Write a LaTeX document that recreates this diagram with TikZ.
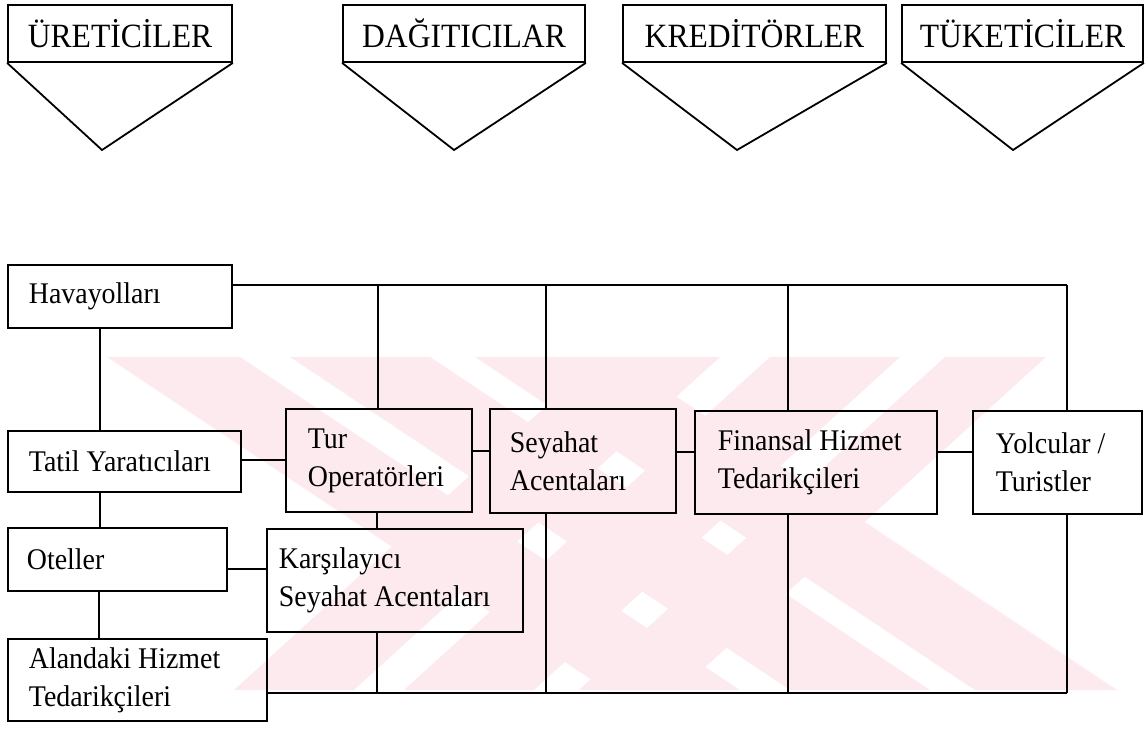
\documentclass[tikz,border=0pt]{standalone}
\usepackage{fontspec}
\setmainfont{Liberation Serif}[FakeStretch=0.93]
\definecolor{wm}{RGB}{252,234,238}
\begin{document}
\begin{tikzpicture}[x=1pt,y=-1pt,
  box/.style={draw, line width=1.8pt, anchor=north west, align=flush left, inner ysep=0pt,
              font=\fontsize{30}{38}\selectfont},
  head/.style={draw, line width=1.8pt, inner sep=0pt, font=\fontsize{34}{40}\selectfont},
  lnk/.style={line width=1.8pt},
  wmark/.style={fill=wm, draw=none},
]
\useasboundingbox (0,0) rectangle (1146,730);

% ---- faint watermark (behind everything) ----
\begin{scope}
  \clip (105,357) rectangle (1117,690);
  % "\" arm
  \fill[wmark] (107,357) -- (240,357) -- (740,690) -- (607,690) -- cycle;
  \fill[wmark] (290,357) -- (430,357) -- (930,690) -- (790,690) -- cycle;
  \fill[wmark] (475,357) -- (617,357) -- (1117,690) -- (975,690) -- cycle;
  % "/" arm
  \fill[wmark] (600,357) -- (720,357) -- (354,690) -- (234,690) -- cycle;
  \fill[wmark] (770,357) -- (900,357) -- (534,690) -- (404,690) -- cycle;
  \fill[wmark] (945,357) -- (1046,357) -- (680,690) -- (579,690) -- cycle;
\end{scope}

% ---- top pentagon labels ----
\node[head, minimum width=224, minimum height=57] (ure) at (120,33.5) {ÜRETİCİLER};
\coordinate (urep) at (102,150);
\draw[lnk] (ure.south west) -- (urep) -- (ure.south east);

\node[head, minimum width=242, minimum height=57] (dag) at (464,33.5) {DAĞITICILAR};
\coordinate (dagp) at (454,150);
\draw[lnk] (dag.south west) -- (dagp) -- (dag.south east);

\node[head, minimum width=263, minimum height=57] (kre) at (754.5,33.5) {KREDİTÖRLER};
\coordinate (krep) at (737,150);
\draw[lnk] (kre.south west) -- (krep) -- (kre.south east);

\node[head, minimum width=241, minimum height=57] (tuk) at (1022.5,33.5) {TÜKETİCİLER};
\coordinate (tukp) at (1013,150);
\draw[lnk] (tuk.south west) -- (tukp) -- (tuk.south east);

% ---- boxes ----
\node[box, minimum height=63,  text width=182pt, inner xsep=21pt] (hav)  at (7,264)   {Havayolları};
\node[box, minimum height=61,  text width=191pt, inner xsep=21pt] (tat)  at (7,430)   {Tatil Yaratıcıları};
\node[box, minimum height=103, text width=142pt, inner xsep=22pt] (tur)  at (285,408) {Tur\\Operatörleri};
\node[box, minimum height=104, text width=146pt, inner xsep=20pt] (sey)  at (489,408) {Seyahat\\Acentaları};
\node[box, minimum height=103, text width=196pt, inner xsep=23pt] (fin)  at (694,410) {Finansal Hizmet\\Tedarikçileri};
\node[box, minimum height=103, text width=123pt, inner xsep=23pt] (yol)  at (972,410) {Yolcular /\\Turistler};
\node[box, minimum height=63,  text width=181pt, inner xsep=19pt] (otel) at (7,527)   {Oteller};
\node[box, minimum height=103, text width=232pt, inner xsep=12pt] (kar)  at (266,528) {Karşılayıcı\\Seyahat Acentaları};
\node[box, minimum height=82,  text width=217pt, inner xsep=21pt] (alan) at (7,638)   {Alandaki Hizmet\\Tedarikçileri};

% ---- junction coordinates ----
\coordinate (t1) at (378,285);
\coordinate (t2) at (546,285);
\coordinate (t3) at (788,285);
\coordinate (t4) at (1067,285);
\coordinate (b1) at (377,693);
\coordinate (b2) at (546,693);
\coordinate (b3) at (788,693);
\coordinate (b4) at (1067,693);

% ---- top bus ----
\draw[lnk] (hav.east |- t1) -- (t4);
\draw[lnk] (t1) -- (t1 |- tur.north);
\draw[lnk] (t2) -- (t2 |- sey.north);
\draw[lnk] (t3) -- (t3 |- fin.north);
\draw[lnk] (t4) -- (t4 |- yol.north);

% ---- left column ----
\draw[lnk] (hav.south -| 100,0) -- (tat.north -| 100,0);
\draw[lnk] (tat.south -| 100,0) -- (otel.north -| 100,0);
\draw[lnk] (otel.south -| 99,0) -- (alan.north -| 99,0);

% ---- horizontal links ----
\draw[lnk] (tat.east |- 0,460) -- (tur.west |- 0,460);
\draw[lnk] (tur.east |- 0,451) -- (sey.west |- 0,451);
\draw[lnk] (sey.east |- 0,452) -- (fin.west |- 0,452);
\draw[lnk] (fin.east |- 0,452) -- (yol.west |- 0,452);
\draw[lnk] (otel.east |- 0,569) -- (kar.west |- 0,569);
\draw[lnk] (tur.south -| 377,0) -- (kar.north -| 377,0);

% ---- bottom bus ----
\draw[lnk] (alan.east |- b1) -- (b4);
\draw[lnk] (b1) -- (b1 |- kar.south);
\draw[lnk] (b2) -- (b2 |- sey.south);
\draw[lnk] (b3) -- (b3 |- fin.south);
\draw[lnk] (b4) -- (b4 |- yol.south);
\end{tikzpicture}
\end{document}
